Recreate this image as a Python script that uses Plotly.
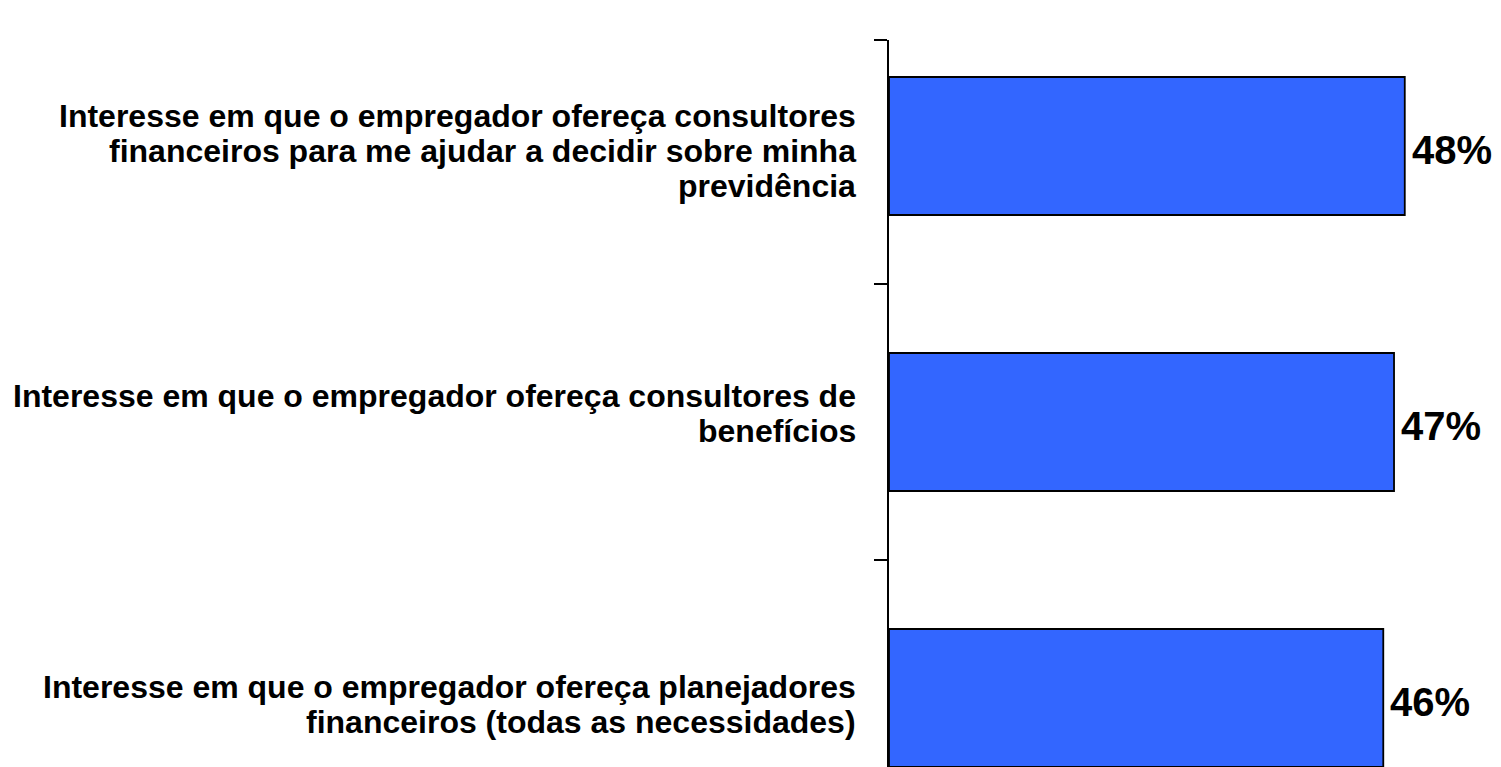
import plotly.graph_objects as go

categories = [
    "Interesse em que o empregador ofereça consultores<br>financeiros para me ajudar a decidir sobre minha<br>previdência",
    "Interesse em que o empregador ofereça consultores de<br>benefícios",
    "Interesse em que o empregador ofereça planejadores<br>financeiros (todas as necessidades)",
]
values = [48, 47, 46]
value_labels = ["48%", "47%", "46%"]

FONT = "Liberation Sans, Arial, sans-serif"
positions = list(range(len(categories)))

Y_TOP = -0.384
Y_BOTTOM = 2.279

fig = go.Figure()
fig.add_trace(go.Bar(
    x=values,
    y=positions,
    orientation="h",
    width=0.5,
    marker=dict(color="#3366FF", line=dict(color="#000000", width=1.8)),
    hoverinfo="skip",
))

annotations = []
label_nudge = [5, -8, 7]
line_gap = 35
for i, cat in enumerate(categories):
    lines = cat.split("<br>")
    n = len(lines)
    for k, line in enumerate(lines):
        off = (k - (n - 1) / 2) * line_gap + label_nudge[i]
        annotations.append(dict(
            x=0, xref="paper", y=positions[i], yref="y",
            text="<b>%s</b>" % line, showarrow=False,
            xanchor="right", yanchor="middle",
            xshift=-31, yshift=-off,
            font=dict(family=FONT, size=32, color="black"),
        ))
    annotations.append(dict(
        x=values[i], xref="x", y=positions[i], yref="y",
        text="<b>%s</b>" % value_labels[i], showarrow=False,
        xanchor="left", yanchor="middle", xshift=5, yshift=-4,
        font=dict(family=FONT, size=40, color="black"),
    ))

fig.update_layout(
    width=1501, height=767,
    margin=dict(l=881, r=0, t=32, b=0),
    paper_bgcolor="white", plot_bgcolor="white",
    showlegend=False,
    annotations=annotations,
    xaxis=dict(range=[0, 57.7], visible=False, fixedrange=True),
    yaxis=dict(
        range=[Y_BOTTOM, Y_TOP],
        tickmode="array", tickvals=[Y_TOP, 0.5, 1.5],
        ticktext=["", "", ""],
        ticks="outside", ticklen=13, tickwidth=2, tickcolor="black",
        showline=True, linecolor="black", linewidth=2,
        showgrid=False, zeroline=False, fixedrange=True,
    ),
)
fig.write_html("out.html")
